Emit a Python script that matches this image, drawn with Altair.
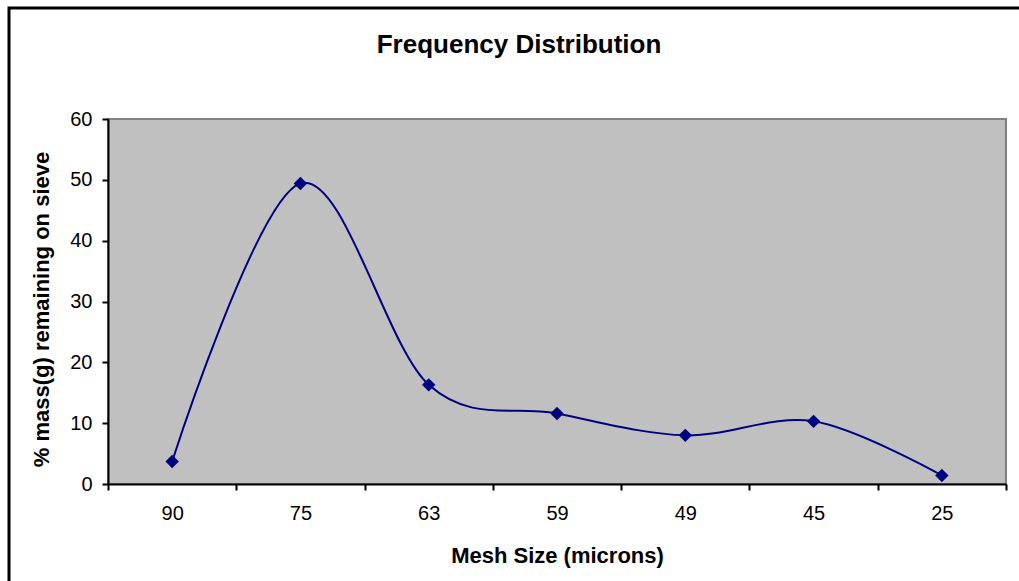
import altair as alt
import pandas as pd

mesh = ["90", "75", "63", "59", "49", "45", "25"]
mass_pct = [3.7, 49.4, 16.3, 11.6, 8.0, 10.3, 1.4]
chart_title = "Frequency Distribution"

df = pd.DataFrame({"mesh": mesh, "mass": mass_pct})
one = pd.DataFrame({"t": [chart_title]})

FONT = "Liberation Sans"

x_enc = alt.X("mesh:N", sort=mesh, title="Mesh Size (microns)",
              scale=alt.Scale(paddingInner=0, paddingOuter=0),
              axis=alt.Axis(labelAngle=0, tickBand="extent", tickSize=6,
                            labelPadding=13, titlePadding=22,
                            domainColor="#000000", tickColor="#000000",
                            domainWidth=2, tickWidth=2))
y_enc = alt.Y("mass:Q", title="% mass(g) remaining on sieve",
              scale=alt.Scale(domain=[0, 60], nice=False),
              axis=alt.Axis(values=[0, 10, 20, 30, 40, 50, 60], grid=False,
                            tickSize=6, labelPadding=10, titlePadding=16,
                            titleY=190,
                            domainColor="#000000", tickColor="#000000",
                            domainWidth=2, tickWidth=2))

base = alt.Chart(df).encode(x=x_enc, y=y_enc)

line = base.mark_line(color="#000080", strokeWidth=2, interpolate="cardinal")
pts = base.mark_point(shape="diamond", filled=True, color="#000080", size=180, opacity=1)

frame = alt.Chart(one).mark_rect(fill=None, stroke="#000000", strokeWidth=3).encode(
    x=alt.value(-99), x2=alt.value(930), y=alt.value(-111), y2=alt.value(480)
)

title_txt = alt.Chart(one).mark_text(
    font=FONT, fontSize=26, fontWeight="bold", color="#000000",
    align="center", baseline="alphabetic"
).encode(
    x=alt.value(411), y=alt.value(-66), text="t:N"
)

chart = alt.layer(frame, line, pts, title_txt).properties(
    width=898, height=365,
    background="#FFFFFF",
    autosize=alt.AutoSizeParams(type="none"),
    padding={"left": 108, "top": 119, "right": 13, "bottom": 97},
).configure_view(
    fill="#C0C0C0", stroke="#808080", strokeWidth=2
).configure_axis(
    labelFont=FONT, labelFontSize=20, labelColor="#000000",
    titleFont=FONT, titleFontSize=22, titleFontWeight="bold", titleColor="#000000",
)

chart.save("out.html", embed_options={"renderer": "svg", "actions": False})
